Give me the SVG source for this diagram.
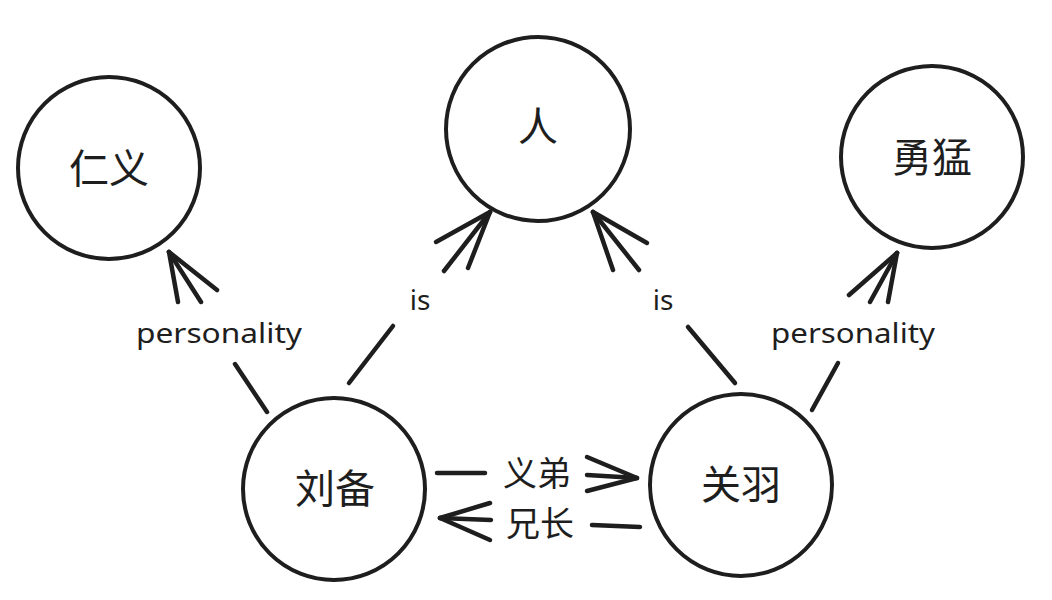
<svg xmlns="http://www.w3.org/2000/svg" width="1052" height="600" viewBox="0 0 1052 600">
  <style>
    .node circle { fill: none; stroke: #1e1e1e; stroke-width: 4; }
    .node text { font-family: "Noto Sans CJK SC", "Noto Sans", sans-serif; font-size: 40px; fill: #1e1e1e; text-anchor: middle; dominant-baseline: central; }
    .edge line { stroke: #1e1e1e; stroke-width: 4.5; stroke-linecap: round; fill: none; }
    .lbl { font-family: "Noto Sans", "Liberation Sans", sans-serif; font-size: 28px; fill: #1e1e1e; text-anchor: middle; }
    .cjk { font-family: "Noto Sans CJK SC", sans-serif; font-size: 34px; fill: #1e1e1e; text-anchor: middle; dominant-baseline: central; }
  </style>
  <rect width="1052" height="600" fill="#ffffff"/>

  <g id="node-renyi" class="node">
    <circle cx="109" cy="168" r="91"/>
    <text x="109" y="166">仁义</text>
  </g>
  <g id="node-ren" class="node">
    <circle cx="538" cy="129" r="92"/>
    <text x="538" y="124">人</text>
  </g>
  <g id="node-yongmeng" class="node">
    <circle cx="932" cy="157" r="91"/>
    <text x="932" y="155">勇猛</text>
  </g>
  <g id="node-liubei" class="node">
    <circle cx="334" cy="489" r="91"/>
    <text x="335" y="486">刘备</text>
  </g>
  <g id="node-guanyu" class="node">
    <circle cx="741" cy="485" r="91"/>
    <text x="741" y="482">关羽</text>
  </g>

  <g id="connectors">
    <!-- 刘备 -> 仁义 : personality -->
    <g class="edge" id="e-liubei-renyi">
      <line x1="267" y1="412" x2="235" y2="364"/>
      <line x1="201" y1="302" x2="169" y2="252"/>
      <line x1="178" y1="302" x2="169" y2="252"/>
      <line x1="217" y1="290" x2="169" y2="252"/>
      <text class="lbl" x="219" y="343" textLength="166" lengthAdjust="spacingAndGlyphs">personality</text>
    </g>
    <!-- 刘备 -> 人 : is -->
    <g class="edge" id="e-liubei-ren">
      <line x1="349" y1="383" x2="393" y2="326"/>
      <line x1="444" y1="271" x2="490" y2="212"/>
      <line x1="436" y1="242" x2="490" y2="212"/>
      <line x1="468" y1="268" x2="490" y2="212"/>
      <text class="lbl" x="420" y="310">is</text>
    </g>
    <!-- 关羽 -> 人 : is -->
    <g class="edge" id="e-guanyu-ren">
      <line x1="735" y1="383" x2="688" y2="327"/>
      <line x1="639" y1="270" x2="593" y2="212"/>
      <line x1="647" y1="243" x2="593" y2="212"/>
      <line x1="613" y1="270" x2="593" y2="212"/>
      <text class="lbl" x="663" y="310">is</text>
    </g>
    <!-- 关羽 -> 勇猛 : personality -->
    <g class="edge" id="e-guanyu-yongmeng">
      <line x1="812" y1="410" x2="838" y2="363"/>
      <line x1="870" y1="302" x2="897" y2="253"/>
      <line x1="849" y1="295" x2="897" y2="253"/>
      <line x1="888" y1="302" x2="897" y2="253"/>
      <text class="lbl" x="853" y="343" textLength="164" lengthAdjust="spacingAndGlyphs">personality</text>
    </g>
    <!-- 刘备 -> 关羽 : 义弟 -->
    <g class="edge" id="e-liubei-guanyu">
      <line x1="437" y1="473" x2="485" y2="473"/>
      <line x1="587" y1="475" x2="637" y2="478"/>
      <line x1="587" y1="457" x2="637" y2="478"/>
      <line x1="587" y1="491" x2="637" y2="478"/>
      <text class="cjk" x="537" y="471">义弟</text>
    </g>
    <!-- 关羽 -> 刘备 : 兄长 -->
    <g class="edge" id="e-guanyu-liubei">
      <line x1="640" y1="527" x2="592" y2="525"/>
      <line x1="491" y1="520" x2="440" y2="518"/>
      <line x1="490" y1="503" x2="440" y2="518"/>
      <line x1="490" y1="540" x2="440" y2="518"/>
      <text class="cjk" x="540" y="521">兄长</text>
    </g>
  </g>
</svg>
